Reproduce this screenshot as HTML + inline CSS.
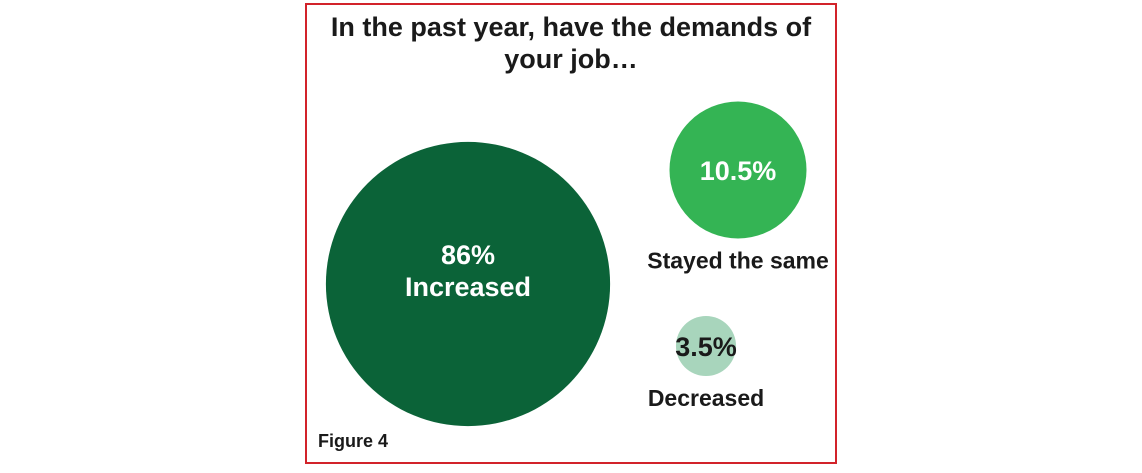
<!DOCTYPE html>
<html><head><meta charset="utf-8"><style>
html,body{margin:0;padding:0;background:#fff;}
svg text{font-family:"Liberation Sans Narrow","Liberation Sans",sans-serif;font-weight:bold;}
</style></head><body>
<svg id="chart" width="1142" height="468" viewBox="0 0 1142 468" xmlns="http://www.w3.org/2000/svg">
<rect x="306" y="4" width="530" height="459" fill="#fff" stroke="#d2232a" stroke-width="2"/>
<text text-anchor="middle" font-size="27" fill="#1a1a1a"><tspan x="571" y="36">In the past year, have the demands of</tspan><tspan x="571" y="68">your job…</tspan></text>
<text x="318" y="447" font-size="18" fill="#1a1a1a">Figure 4</text>
<g id="bubbles"></g>
</svg>
<script>
const categories = ["Increased", "Stayed the same", "Decreased"];
const values = [86, 10.5, 3.5];
const valueLabels = ["86%", "10.5%", "3.5%"];
const colors = ["#0b6338", "#34b454", "#a8d5bc"];
const centers = [[468, 284], [738, 170], [706, 346]];
function rScale(v){ return -13.8 + 35 * Math.log(v); }
const g = document.getElementById('bubbles');
const NS = "http://www.w3.org/2000/svg";
values.forEach((v, i) => {
  const r = rScale(v);
  const [cx, cy] = centers[i];
  const c = document.createElementNS(NS, 'circle');
  
  
  c.setAttribute('cx', cx); c.setAttribute('cy', cy); c.setAttribute('r', r);
  c.setAttribute('fill', colors[i]);
  g.appendChild(c);
  const t = document.createElementNS(NS, 'text');
  
  
  t.setAttribute('text-anchor', 'middle');
  t.setAttribute('font-size', '27');
  t.setAttribute('fill', i === 2 ? '#1a1a1a' : '#fff');
  if (i === 0) {
    t.innerHTML = '<tspan x="' + cx + '" y="' + (cy - 20) + '">' + valueLabels[i] + '</tspan><tspan x="' + cx + '" y="' + (cy + 12) + '">' + categories[i] + '</tspan>';
  } else {
    t.setAttribute('x', cx); t.setAttribute('y', cy + 10);
    t.textContent = valueLabels[i];
  }
  g.appendChild(t);
  if (i > 0) {
    const l = document.createElementNS(NS, 'text');
    
    
    l.setAttribute('text-anchor', 'middle');
    l.setAttribute('font-size', '23');
    l.setAttribute('fill', '#1a1a1a');
    l.setAttribute('x', cx); l.setAttribute('y', cy + r + 30);
    l.textContent = categories[i];
    g.appendChild(l);
  }
});
</script>
</body></html>
